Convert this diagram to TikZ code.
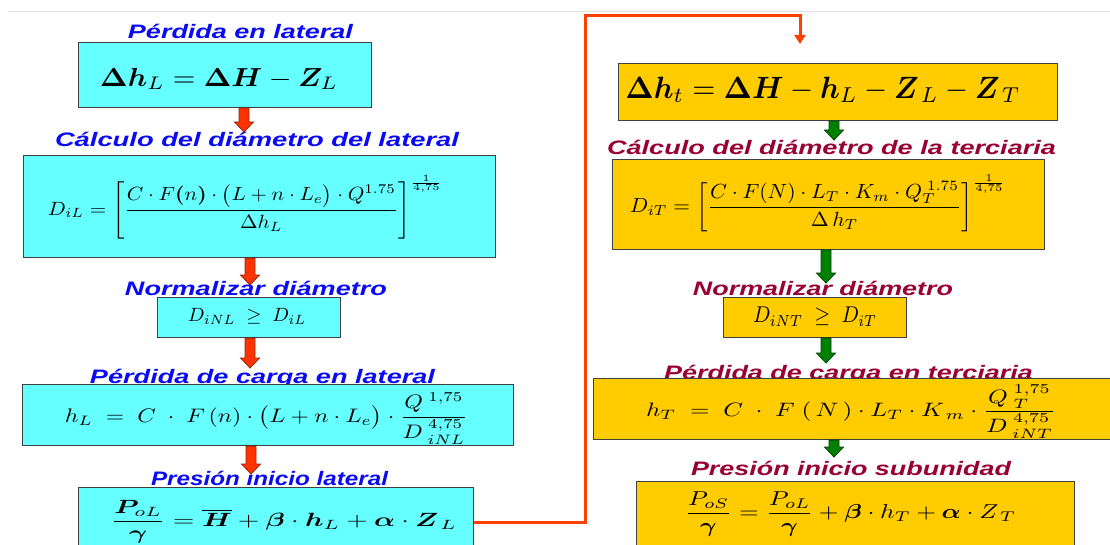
\documentclass[tikz,border=0pt]{standalone}
\usepackage{amsmath,bm}
\usepackage{graphicx}
\usepackage{fontspec}
\newfontfamily\ttlfont{Liberation Sans}
\usetikzlibrary{arrows.meta,calc}
\definecolor{cyanfill}{RGB}{102,255,255}
\definecolor{goldfill}{RGB}{255,204,0}
\definecolor{boxborder}{RGB}{64,64,64}
\definecolor{titleblue}{RGB}{10,10,245}
\definecolor{titlered}{RGB}{153,0,51}
\definecolor{arrred}{RGB}{255,51,0}
\definecolor{arrredb}{RGB}{150,40,10}
\definecolor{arrgreen}{RGB}{0,128,0}
\definecolor{arrgreenb}{RGB}{0,70,0}
\definecolor{linkred}{RGB}{255,64,0}
\tikzset{
  box/.style={draw=boxborder, line width=1.1pt, inner sep=0pt, anchor=north west},
  cyanbox/.style={box, fill=cyanfill},
  goldbox/.style={box, fill=goldfill},
  ttl/.style={inner sep=0pt, anchor=base, font=\ttlfont\bfseries\itshape},
  ttlL/.style={ttl, text=titleblue},
  ttlR/.style={ttl, text=titlered},
  eq/.style={inner sep=0pt, anchor=center},
  redarrow/.style={fill=arrred, draw=arrredb, line width=0.8pt},
  greenarrow/.style={fill=arrgreen, draw=arrgreenb, line width=0.8pt},
  link/.style={draw=linkred, line width=3pt, -{Triangle[width=11pt,length=9pt]}},
}
\newcommand\ttltext[2]{\resizebox{#1pt}{\height}{\fontsize{19.5}{21}\selectfont #2}}
\newcommand\eqbox[3]{\resizebox*{#1pt}{#2pt}{$\displaystyle #3$}}
\newcommand\blockarrow[3]{%
  \draw[#1] let \p1=(#2), \p2=(#3) in
    (\x1-5pt,\y1) -- (\x1-5pt,\y2+10pt) -- (\x1-9.5pt,\y2+10pt) -- (\x2,\y2)
    -- (\x1+9.5pt,\y2+10pt) -- (\x1+5pt,\y2+10pt) -- (\x1+5pt,\y1) -- cycle;}
\begin{document}
\begin{tikzpicture}[x=1pt,y=-1pt]
\useasboundingbox (0,0) rectangle (1110,545);
\clip (0,0) rectangle (1110,545);
\fill[white] (0,0) rectangle (1110,545);
% faint top rule
\draw[gray!25, line width=1pt] (8,11.5) -- (1110,11.5);

% titles
\node[ttlL] (T1) at (240.5,39)  {\ttltext{225}{Pérdida en lateral}};
\node[ttlL] (T2) at (257,147)   {\ttltext{404}{Cálculo del diámetro del lateral}};
\node[ttlL] (T3) at (256,295)   {\ttltext{262}{Normalizar diámetro}};
\node[ttlL] (T4) at (262.5,383) {\ttltext{345}{Pérdida de carga en lateral}};
\node[ttlL] (T5) at (269.5,485) {\ttltext{237}{Presión inicio lateral}};
\node[ttlR] (U2) at (831.5,155) {\ttltext{449}{Cálculo del diámetro de la terciaria}};
\node[ttlR] (U3) at (823,295)   {\ttltext{260}{Normalizar diámetro}};
\node[ttlR] (U4) at (848.5,379) {\ttltext{369}{Pérdida de carga en terciaria}};
\node[ttlR] (U5) at (851,475)   {\ttltext{320}{Presión inicio subunidad}};

% boxes
\node[cyanbox, minimum width=293pt, minimum height=65pt]  (L1) at (78,42)  {};
\node[cyanbox, minimum width=472pt, minimum height=102pt] (L2) at (23,155) {};
\node[cyanbox, minimum width=183pt, minimum height=40pt]  (L3) at (157,297) {};
\node[cyanbox, minimum width=491pt, minimum height=61pt]  (L4) at (22,384) {};
\node[cyanbox, minimum width=395pt, minimum height=70pt]  (L5) at (78,487) {};
\node[goldbox, minimum width=439pt, minimum height=57pt]  (R1) at (618,63) {};
\node[goldbox, minimum width=432pt, minimum height=90pt]  (R2) at (612,159) {};
\node[goldbox, minimum width=183pt, minimum height=40pt]  (R3) at (723,297) {};
\node[goldbox, minimum width=530pt, minimum height=61pt]  (R4) at (593,378) {};
\node[goldbox, minimum width=438pt, minimum height=80pt]  (R5) at (636,481) {};

% formulas
\node[eq] (F1) at (219,79) {\eqbox{238}{22}{\boldsymbol{\Delta h}_{L} = \boldsymbol{\Delta H} - \boldsymbol{Z}_{L}}};
\node[eq] (F2) at (245.5,207) {\eqbox{395}{64}{D_{iL} = \left[\frac{C\cdot F\boldsymbol{(}n\boldsymbol{)}\cdot\boldsymbol{\bigl(}L+n\cdot L_{e}\boldsymbol{\bigr)}\cdot Q^{1.75}}{\Delta h_{L}}\right]^{\frac{1}{4{,}75}}}};
\node[eq] (F3) at (247,316) {\eqbox{118}{16}{D_{iNL}\;\geq\; D_{iL}}};
\node[eq] (F4) at (266.5,418.5) {\eqbox{403}{51}{h_{L}\;=\;C\;\cdot\;F\,(n)\cdot\bigl(L+n\cdot L_{e}\bigr)\cdot\frac{Q^{\;1,75}}{D^{\;4,75}_{\;iNL}}}};
\node[eq] (F5) at (284,521.5) {\eqbox{346}{43}{\frac{\boldsymbol{P}_{oL}}{\boldsymbol{\gamma}} = \overline{\boldsymbol{H}} + \boldsymbol{\beta}\cdot\boldsymbol{h}_{L} + \boldsymbol{\alpha}\cdot\boldsymbol{Z}_{\,L}}};
\node[eq] (G1) at (823,90) {\eqbox{395}{26}{\boldsymbol{\Delta h}_{t} = \boldsymbol{\Delta H} - \boldsymbol{h}_{L} - \boldsymbol{Z}_{\,L} - \boldsymbol{Z}_{\,T}}};
\node[eq] (G2) at (818,203) {\eqbox{376}{57}{D_{iT} = \left[\frac{C\cdot F(N)\cdot L_{T}\cdot K_{m}\cdot Q_{T}^{\;1.75}}{\Delta\, h_{T}}\right]^{\frac{1}{4{,}75}}}};
\node[eq] (G3) at (815,316.5) {\eqbox{124}{19}{D_{iNT}\;\geq\; D_{iT}}};
\node[eq] (G4) at (851,411.5) {\eqbox{410}{53}{h_{T}\;=\;C\;\cdot\;F\;(\,N\,)\cdot L_{T}\cdot K_{\,m}\cdot\frac{Q_{\;T}^{\;1,75}}{D^{\;4,75}_{\;iNT}}}};
\node[eq] (G5) at (850.5,514) {\eqbox{331}{45}{\frac{P_{oS}}{\boldsymbol{\gamma}} = \frac{P_{oL}}{\boldsymbol{\gamma}} + \boldsymbol{\beta}\cdot h_{T} + \boldsymbol{\alpha}\cdot Z_{\,T}}};

% arrow tips
\coordinate (a1) at (244,132);
\coordinate (a2) at (250,285);
\coordinate (a3) at (250,368);
\coordinate (a4) at (251,474);
\coordinate (b1) at (834,140);
\coordinate (b2) at (826,283);
\coordinate (b3) at (826,363);
\coordinate (b4) at (834,457);
\blockarrow{redarrow}{L1.south -| a1}{a1}
\blockarrow{redarrow}{L2.south -| a2}{a2}
\blockarrow{redarrow}{L3.south -| a3}{a3}
\blockarrow{redarrow}{L4.south -| a4}{a4}
\blockarrow{greenarrow}{R1.south -| b1}{b1}
\blockarrow{greenarrow}{R2.south -| b2}{b2}
\blockarrow{greenarrow}{R3.south -| b3}{b3}
\blockarrow{greenarrow}{R4.south -| b4}{b4}

% link from left column to right column
\coordinate (k1) at (585,16);
\coordinate (k2) at (800,44);
\draw[link] (L5.east) -| (k1) -| (k2);
\end{tikzpicture}
\end{document}
